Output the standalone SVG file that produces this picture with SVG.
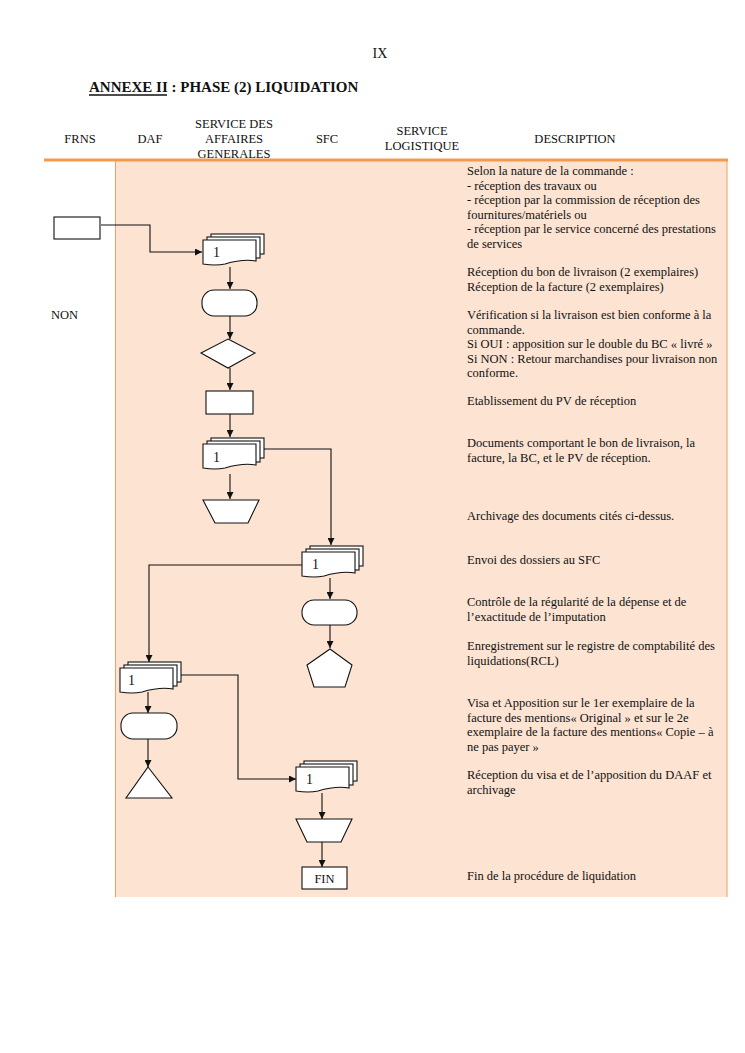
<svg xmlns="http://www.w3.org/2000/svg" xmlns:xlink="http://www.w3.org/1999/xlink" width="745" height="1053" viewBox="0 0 745 1053">
<style>
text{font-family:"Liberation Serif","Times New Roman",serif;fill:#111}
.h{font-size:12.5px;text-anchor:middle}
.d{font-size:12.5px}
.s{fill:#fff;stroke:#111;stroke-width:1.1}
.c{fill:none;stroke:#111;stroke-width:1.1}
.n{font-size:14px}
</style>
<defs>
<marker id="ar" viewBox="0 0 10 10" refX="10" refY="5" markerWidth="7" markerHeight="7" markerUnits="userSpaceOnUse" orient="auto">
<path d="M0,0 L10,5 L0,10 Z" fill="#111"/>
</marker>
<g id="md">
<rect class="s" x="8" y="-6" width="53" height="20"/>
<rect class="s" x="4" y="-3" width="53" height="21"/>
<path class="s" d="M0,0 H53 V21 C42,19 32,21 22,24 C13,26 6,25 0,24 Z"/>
</g>
</defs>
<rect width="745" height="1053" fill="#fff"/>
<text x="380" y="58" font-size="14" text-anchor="middle">IX</text>
<text x="89" y="92" font-size="15" font-weight="bold">ANNEXE II : PHASE (2) LIQUIDATION</text>
<line x1="89" y1="95" x2="167" y2="95" stroke="#111" stroke-width="1.3"/>
<g id="header">
<text class="h" x="80" y="143">FRNS</text>
<text class="h" x="150" y="143">DAF</text>
<text class="h" x="234" y="128">SERVICE DES</text>
<text class="h" x="234" y="143">AFFAIRES</text>
<text class="h" x="234" y="158">GENERALES</text>
<text class="h" x="327" y="143">SFC</text>
<text class="h" x="422" y="135">SERVICE</text>
<text class="h" x="422" y="150">LOGISTIQUE</text>
<text class="h" x="575" y="143">DESCRIPTION</text>
</g>
<rect x="115" y="161" width="612" height="736" fill="#FCE3D2"/>
<line x1="115.5" y1="161" x2="115.5" y2="897" stroke="#F0A060" stroke-width="1"/>
<line x1="727" y1="161" x2="727" y2="897" stroke="#F0A060" stroke-width="1"/>
<line x1="44" y1="160" x2="728" y2="160" stroke="#F29A4E" stroke-width="3"/>
<text class="d" x="51" y="319">NON</text>
<g id="connectors">
<path class="c" d="M101,225 H150 V252 H202" marker-end="url(#ar)"/>
<path class="c" d="M230,267 V289" marker-end="url(#ar)"/>
<path class="c" d="M230,316 V339" marker-end="url(#ar)"/>
<path class="c" d="M230,368 V390" marker-end="url(#ar)"/>
<path class="c" d="M230,414 V437" marker-end="url(#ar)"/>
<path class="c" d="M264,449 H331 V545" marker-end="url(#ar)"/>
<path class="c" d="M230,474 V499" marker-end="url(#ar)"/>
<path class="c" d="M330,578 V599" marker-end="url(#ar)"/>
<path class="c" d="M330,625 V648" marker-end="url(#ar)"/>
<path class="c" d="M302,565 H149 V662" marker-end="url(#ar)"/>
<path class="c" d="M148,692 V713" marker-end="url(#ar)"/>
<path class="c" d="M148,739 V767" marker-end="url(#ar)"/>
<path class="c" d="M180,675 H238 V779 H296" marker-end="url(#ar)"/>
<path class="c" d="M322,793 V819" marker-end="url(#ar)"/>
<path class="c" d="M322,842 V867" marker-end="url(#ar)"/>
</g>
<g id="n-frns"><rect class="s" x="54" y="217" width="46" height="22"/></g>
<g id="n-doc1"><use xlink:href="#md" x="203" y="240"/><text class="n" x="213" y="257">1</text></g>
<g id="n-term1"><rect class="s" x="202" y="290" width="55" height="26" rx="12"/></g>
<g id="n-diam"><polygon class="s" points="228,339 255,353 228,368 201,353"/></g>
<g id="n-pv"><rect class="s" x="206" y="391" width="47" height="23"/></g>
<g id="n-doc2"><use xlink:href="#md" x="203" y="444"/><text class="n" x="213" y="462">1</text></g>
<g id="n-arch1"><polygon class="s" points="203,500 259,500 248,523 215,523"/></g>
<g id="n-doc3"><use xlink:href="#md" x="302" y="552"/><text class="n" x="312" y="569">1</text></g>
<g id="n-term2"><rect class="s" x="302" y="600" width="55" height="25" rx="12"/></g>
<g id="n-pent"><polygon class="s" points="330,649 352,665 345,687 314,687 307,665"/></g>
<g id="n-doc4"><use xlink:href="#md" x="120" y="668"/><text class="n" x="128" y="685">1</text></g>
<g id="n-term3"><rect class="s" x="121" y="713" width="56" height="26" rx="12"/></g>
<g id="n-tri"><polygon class="s" points="148,767 172,798 126,798"/></g>
<g id="n-doc5"><use xlink:href="#md" x="296" y="767"/><text class="n" x="306" y="784">1</text></g>
<g id="n-arch2"><polygon class="s" points="296,819 352,819 341,842 307,842"/></g>
<g id="n-fin"><rect class="s" x="302" y="867" width="45" height="22"/><text class="d" x="324.5" y="882.5" text-anchor="middle">FIN</text></g>
<g id="desc">
<text class="d" x="467" y="175">Selon la nature de la commande :</text>
<text class="d" x="467" y="189.5">- réception des travaux ou</text>
<text class="d" x="467" y="204">- réception par la commission de réception des</text>
<text class="d" x="467" y="218.5">fournitures/matériels ou</text>
<text class="d" x="467" y="233">- réception par le service concerné des prestations</text>
<text class="d" x="467" y="247.5">de services</text>
<text class="d" x="467" y="276">Réception du bon de livraison (2 exemplaires)</text>
<text class="d" x="467" y="290.5">Réception de la facture (2 exemplaires)</text>
<text class="d" x="467" y="319">Vérification si la livraison est bien conforme à la</text>
<text class="d" x="467" y="333.5">commande.</text>
<text class="d" x="467" y="348">Si OUI : apposition sur le double du BC « livré »</text>
<text class="d" x="467" y="362.5">Si NON : Retour marchandises pour livraison non</text>
<text class="d" x="467" y="377">conforme.</text>
<text class="d" x="467" y="405">Etablissement du PV de réception</text>
<text class="d" x="467" y="447">Documents comportant le bon de livraison, la</text>
<text class="d" x="467" y="461.5">facture, la BC, et le PV de réception.</text>
<text class="d" x="467" y="520">Archivage des documents cités ci-dessus.</text>
<text class="d" x="467" y="564">Envoi des dossiers au SFC</text>
<text class="d" x="467" y="606">Contrôle de la régularité de la dépense et de</text>
<text class="d" x="467" y="620.5">l’exactitude de l’imputation</text>
<text class="d" x="467" y="650">Enregistrement sur le registre de comptabilité des</text>
<text class="d" x="467" y="664.5">liquidations(RCL)</text>
<text class="d" x="467" y="707">Visa et Apposition sur le 1er exemplaire de la</text>
<text class="d" x="467" y="721.5">facture des mentions« Original » et sur le 2e</text>
<text class="d" x="467" y="736">exemplaire de la facture des mentions« Copie – à</text>
<text class="d" x="467" y="750.5">ne pas payer »</text>
<text class="d" x="467" y="779">Réception du visa et de l’apposition du DAAF et</text>
<text class="d" x="467" y="793.5">archivage</text>
<text class="d" x="467" y="880">Fin de la procédure de liquidation</text>
</g>
</svg>
